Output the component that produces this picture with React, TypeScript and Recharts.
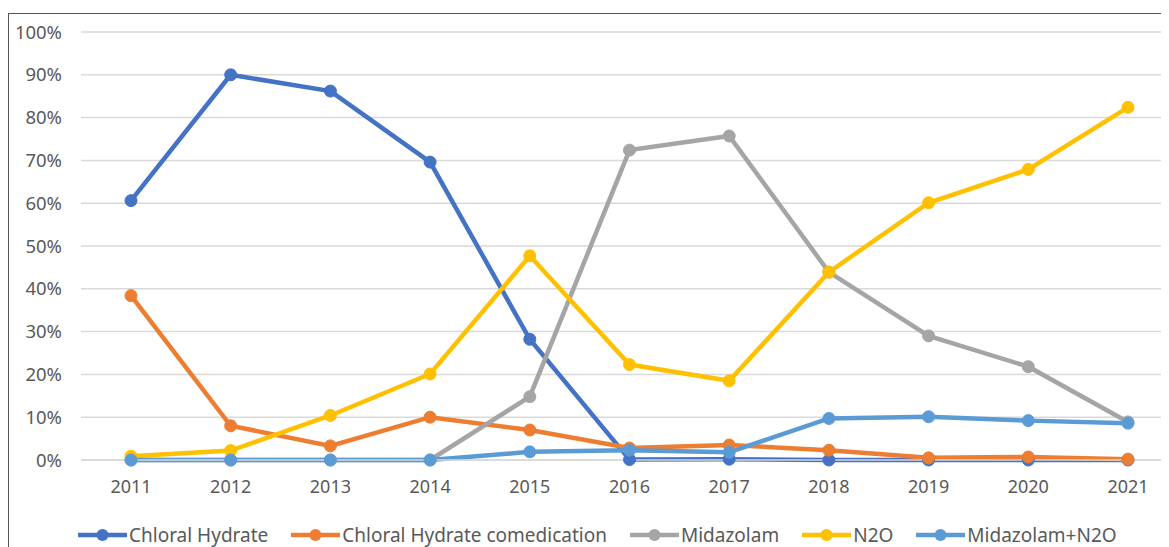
import React from 'react';
import { LineChart, Line, XAxis, YAxis, CartesianGrid } from 'recharts';

const years = ['2011', '2012', '2013', '2014', '2015', '2016', '2017', '2018', '2019', '2020', '2021'];
const chloralHydrate = [60.6, 90.0, 86.2, 69.6, 28.2, 0.1, 0.2, 0.0, 0.0, 0.0, 0.0];
const chloralComedication = [38.4, 8.0, 3.3, 10.0, 7.0, 2.8, 3.5, 2.3, 0.5, 0.7, 0.2];
const midazolam = [0, 0, 0, 0, 14.8, 72.4, 75.7, 43.9, 29.0, 21.8, 8.9];
const n2o = [0.9, 2.2, 10.4, 20.1, 47.7, 22.3, 18.5, 43.9, 60.1, 67.9, 82.4];
const midazolamN2o = [0, 0, 0, 0, 1.9, 2.3, 1.8, 9.7, 10.1, 9.2, 8.6];
const yTicks = [0, 10, 20, 30, 40, 50, 60, 70, 80, 90, 100];

const seriesNames = ['Chloral Hydrate', 'Chloral Hydrate comedication', 'Midazolam', 'N2O', 'Midazolam+N2O'];
const seriesColors = ['#4472C4', '#ED7D31', '#A5A5A5', '#FFC000', '#5B9BD5'];
const seriesValues = [chloralHydrate, chloralComedication, midazolam, n2o, midazolamN2o];
const seriesKeys = ['s0', 's1', 's2', 's3', 's4'];

const data = years.map((year, i) => {
  const row: Record<string, string | number> = { year };
  seriesKeys.forEach((k, j) => {
    row[k] = seriesValues[j][i];
  });
  return row;
});

const FONT = '"Noto Sans", "Noto Sans CJK KR", sans-serif';
const TEXT = '#595959';

export default function App() {
  return (
    <div
      style={{
        position: 'relative',
        marginTop: 5,
        width: 1161,
        height: 534,
        borderTop: '1px solid #555',
        borderLeft: '1px solid #555',
        overflow: 'hidden',
        fontFamily: FONT,
        background: '#fff',
      }}
    >
      <LineChart
        width={1200}
        height={533}
        data={data}
        margin={{ top: 18, right: 31, bottom: 57, left: 12 }}
      >
        <CartesianGrid horizontal vertical={false} stroke="#D9D9D9" strokeWidth={1.5} />
        <XAxis
          dataKey="year"
          height={30}
          padding={{ left: 50, right: 50 }}
          tickLine={false}
          tickSize={0}
          tickMargin={20}
          axisLine={{ stroke: '#D9D9D9', strokeWidth: 1.5 }}
          tick={{ fill: TEXT, fontSize: 18, fontFamily: FONT }}
          interval={0}
        />
        <YAxis
          width={60}
          domain={[0, 100]}
          ticks={yTicks}
          tickFormatter={(v: number) => `${v}%`}
          axisLine={false}
          tickLine={false}
          tickSize={0}
          tickMargin={19}
          tick={{ fill: TEXT, fontSize: 18.5, fontFamily: FONT }}
        />
        {seriesKeys.map((k, j) => (
          <Line
            key={k}
            dataKey={k}
            name={seriesNames[j]}
            type="linear"
            stroke={seriesColors[j]}
            strokeWidth={4.5}
            dot={{ r: 6, fill: seriesColors[j], stroke: seriesColors[j], strokeWidth: 1 }}
            activeDot={false}
            isAnimationActive={false}
          />
        ))}
      </LineChart>
      <div
        style={{
          position: 'absolute',
          left: 69,
          top: 509,
          display: 'flex',
          alignItems: 'center',
          gap: 23,
          fontSize: 19,
          color: TEXT,
          lineHeight: '24px',
          whiteSpace: 'nowrap',
        }}
      >
        {seriesNames.map((name, j) => (
          <div key={name} style={{ display: 'flex', alignItems: 'center' }}>
            <svg width={49} height={14} style={{ marginRight: 2 }}>
              <line x1={1} y1={7} x2={48} y2={7} stroke={seriesColors[j]} strokeWidth={4.5} strokeLinecap="round" />
              <circle cx={24.5} cy={7} r={6} fill={seriesColors[j]} />
            </svg>
            <span>{name}</span>
          </div>
        ))}
      </div>
    </div>
  );
}
